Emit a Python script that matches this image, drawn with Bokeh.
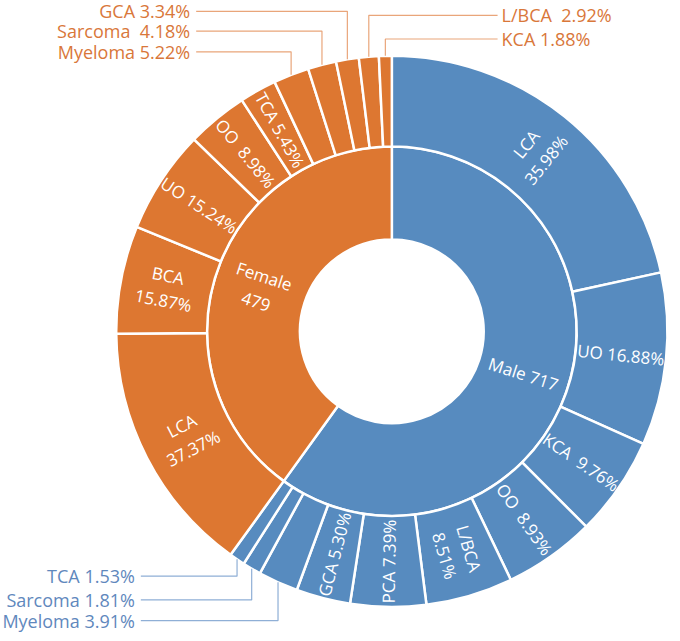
import numpy as np
from bokeh.plotting import figure
from bokeh.models import Range1d
from bokeh.core.properties import value
from bokeh.embed import file_html
from bokeh.resources import INLINE

# ---------------- data ----------------
sex = ["Male", "Female"]
sex_counts = [717, 479]

male_cats = ["LCA", "UO", "KCA", "OO", "L/BCA", "PCA", "GCA", "Myeloma", "Sarcoma", "TCA"]
male_pct = [35.98, 16.88, 9.76, 8.93, 8.51, 7.39, 5.30, 3.91, 1.81, 1.53]

female_cats = ["LCA", "BCA", "UO", "OO", "TCA", "Myeloma", "Sarcoma", "GCA", "L/BCA", "KCA"]
female_pct = [37.37, 15.87, 15.24, 8.98, 5.43, 5.22, 4.18, 3.34, 2.92, 1.88]

# ---------------- layout / style ----------------
W, H = 672, 633
SX, SY = W / 680.0, H / 641.0
S = (SX + SY) / 2
def px(x_img, y_img):
    return x_img * SX, H - y_img * SY

CX, CY = px(396, 335)
R_OUT, R_MID, R_HOLE = 279 * S, 187 * S, 93 * S
BLUE = "#578BBF"
ORANGE = "#DD7731"
BLUE_TXT = "#5F88BD"
ORANGE_TXT = "#D9773A"
BLUE_LINE = "#8FAFD6"
ORANGE_LINE = "#E9A57A"
FONT = value("Open Sans")
IN_SIZE = "17px"
OUT_SIZE = "18px"
NB2 = " \u00a0"   # visible double space

p = figure(width=W, height=H, x_range=Range1d(0, W), y_range=Range1d(0, H),
           output_backend="svg", toolbar_location=None, min_border=0)
p.axis.visible = False
p.grid.visible = False
p.outline_line_color = None
p.background_fill_color = "white"

total = float(sum(sex_counts))
f_male = sex_counts[0] / total

def clock_to_math(c):
    # c: fraction of full circle, clockwise from 12 o'clock
    return np.pi / 2 - 2 * np.pi * c

# inner ring
inner_c0 = [0.0, f_male]
inner_c1 = [f_male, 1.0]
p.annular_wedge(x=CX, y=CY, inner_radius=R_HOLE, outer_radius=R_MID,
                start_angle=[clock_to_math(b) for b in inner_c1],
                end_angle=[clock_to_math(a) for a in inner_c0],
                fill_color=[BLUE, ORANGE], line_color="white", line_width=2.5)

def segs(pcts, start, span):
    arr = np.array(pcts, dtype=float)
    arr = arr / arr.sum()
    c1 = start + span * np.cumsum(arr)
    c0 = c1 - span * arr
    return c0, c1

m0, m1 = segs(male_pct, 0.0, f_male)
f0, f1 = segs(female_pct, f_male, 1.0 - f_male)

for c0, c1, col in [(m0, m1, BLUE), (f0, f1, ORANGE)]:
    p.annular_wedge(x=CX, y=CY, inner_radius=R_MID, outer_radius=R_OUT,
                    start_angle=clock_to_math(c1), end_angle=clock_to_math(c0),
                    fill_color=col, line_color="white", line_width=2.5)

def label_angle(cmid):
    deg = cmid * 360.0
    phi = 90.0 - deg
    if deg > 180.0:
        phi += 180.0
    return np.deg2rad(phi)

def ring_point(cmid, r):
    a = clock_to_math(cmid)
    return CX + r * np.cos(a), CY + r * np.sin(a)

# inner labels
inner_text = [f"{sex[0]} {sex_counts[0]}", f"{sex[1]}\n{sex_counts[1]}"]
ix, iy, ia = [], [], []
for c0, c1 in zip(inner_c0, inner_c1):
    cm = (c0 + c1) / 2
    x, y = ring_point(cm, (R_HOLE + R_MID) / 2)
    ix.append(x); iy.append(y); ia.append(label_angle(cm))
p.text(x=ix, y=iy, angle=ia, text=inner_text, text_color="white",
       text_font=FONT, text_font_size=IN_SIZE, text_align="center",
       text_baseline="middle", text_line_height=1.15)

# outer labels
two_line = {"LCA", "BCA", "L/BCA"}
def seg_text(cat, pct, male):
    s = f"{pct:.2f}%"
    if cat in two_line and not (cat == "L/BCA" and not male):
        return f"{cat}\n{s}"
    if cat in ("KCA", "OO") and pct < 10:
        return f"{cat}{NB2}{s}"
    return f"{cat} {s}"

inside_male = 7     # first 7 male segments labelled inside
inside_female = 5   # first 5 female segments labelled inside
ox, oy, oa, ot = [], [], [], []
for cats, pcts, c0, c1, n, male in [(male_cats, male_pct, m0, m1, inside_male, True),
                                     (female_cats, female_pct, f0, f1, inside_female, False)]:
    for i in range(n):
        cm = (c0[i] + c1[i]) / 2
        x, y = ring_point(cm, (R_MID + R_OUT) / 2)
        ox.append(x); oy.append(y); oa.append(label_angle(cm))
        ot.append(seg_text(cats[i], pcts[i], male))
p.text(x=ox, y=oy, angle=oa, text=ot, text_color="white",
       text_font=FONT, text_font_size=IN_SIZE, text_align="center",
       text_baseline="middle", text_line_height=1.1)

# external labels with leader lines
def external(cats, pcts, c0, c1, idxs, label_ys, text_x, line_x, align, tcol, lcol):
    xs, ys, tx, ty, tt = [], [], [], [], []
    for i, ly in zip(idxs, label_ys):
        cm = (c0[i] + c1[i]) / 2
        rx, ry = ring_point(cm, R_OUT)
        _, lyd = px(0, ly)
        lx, _ = px(line_x, 0)
        xs.append([rx, rx, lx]); ys.append([ry, lyd, lyd])
        txd, _ = px(text_x, 0)
        tx.append(txd); ty.append(lyd)
        sep = NB2 if cats[i] in ("Sarcoma", "L/BCA") and tcol == ORANGE_TXT else " "
        tt.append(f"{cats[i]}{sep}{pcts[i]:.2f}%")
    p.multi_line(xs=xs, ys=ys, line_color=lcol, line_width=1.2)
    p.text(x=tx, y=ty, text=tt, text_color=tcol, text_font=FONT,
           text_font_size=OUT_SIZE, text_align=align, text_baseline="middle")

# female, top-left: Myeloma, Sarcoma, GCA
external(female_cats, female_pct, f0, f1, [5, 6, 7], [52, 31, 11], 192, 198,
         "right", ORANGE_TXT, ORANGE_LINE)
# female, top-right: L/BCA, KCA
external(female_cats, female_pct, f0, f1, [8, 9], [15, 39], 507, 503,
         "left", ORANGE_TXT, ORANGE_LINE)
# male, bottom-left: TCA, Sarcoma, Myeloma
external(male_cats, male_pct, m0, m1, [9, 8, 7], [583, 607, 628], 136, 142,
         "right", BLUE_TXT, BLUE_LINE)

open("out.html", "w").write(file_html(p, INLINE))
